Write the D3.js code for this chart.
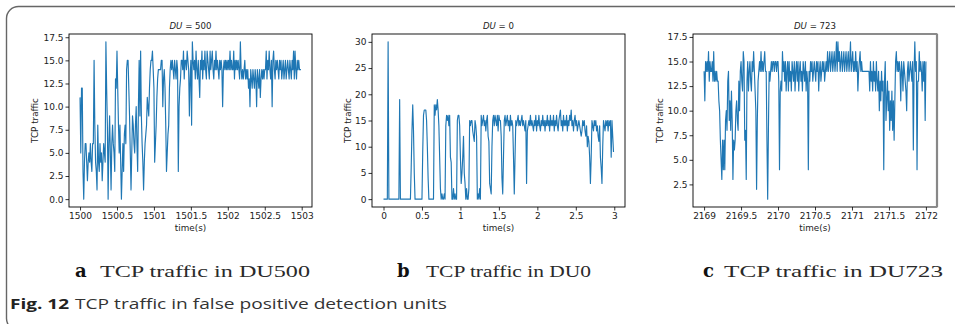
<!DOCTYPE html>
<html>
<head>
<meta charset="utf-8">
<script src="https://cdn.jsdelivr.net/npm/d3@7"></script>
<style>
  body { margin: 0; background: #fff; }
  svg { display: block; }
</style>
</head>
<body>
<script>
// sampled every 10 ms
const stepSec = 0.01;

const start500 = 1500;
const traffic500 = [
  11, 5, 12, 12, 3, 0, 4, 6, 6, 4,
  2, 4, 5, 4, 6, 4, 3, 6, 6, 15,
  8, 4, 3, 1, 8, 4, 3, 6, 4, 5,
  2, 4, 6, 5, 4, 17, 12, 8, 0, 6,
  9, 5, 1, 6, 8, 6, 5, 3, 13, 12,
  16, 12, 8, 5, 8, 4, 0, 3, 6, 3,
  7, 8, 6, 14, 15, 15, 12, 9, 5, 1,
  5, 9, 8, 6, 5, 8, 10, 6, 3, 10,
  15, 9, 16, 9, 6, 4, 1, 4, 6, 7,
  8, 11, 10, 9, 12, 14, 15, 15, 16, 14,
  12, 4, 6, 8, 11, 13, 14, 14, 14, 14,
  15, 15, 10, 13, 14, 12, 8, 3, 5, 7,
  8, 12, 14, 15, 14, 15, 14, 13, 15, 14,
  13, 15, 14, 3, 10, 12, 13, 15, 15, 14,
  16, 13, 15, 15, 14, 16, 15, 14, 9, 13,
  15, 8, 17, 15, 14, 15, 13, 16, 14, 13,
  15, 13, 11, 15, 14, 16, 13, 15, 14, 16,
  14, 13, 16, 15, 14, 13, 16, 14, 15, 16,
  14, 13, 15, 14, 16, 14, 15, 14, 13, 15,
  14, 15, 14, 10, 14, 15, 14, 15, 14, 15,
  14, 15, 14, 16, 14, 15, 14, 14, 16, 13,
  15, 14, 15, 14, 15, 14, 13, 17, 14, 13,
  14, 13, 14, 15, 13, 14, 13, 14, 12, 13,
  10, 14, 13, 12, 14, 13, 12, 14, 13, 10,
  14, 13, 12, 14, 11, 13, 14, 13, 14, 13,
  14, 14, 16, 13, 15, 14, 16, 14, 13, 15,
  10, 15, 16, 14, 13, 15, 14, 15, 14, 13,
  15, 14, 15, 13, 14, 15, 13, 14, 15, 13,
  14, 15, 14, 13, 15, 14, 13, 15, 14, 16,
  13, 16, 14, 13, 15, 14, 15, 14, 14, 14
];

const start0 = 0;
const traffic0 = [
  0, 0, 0, 0, 0, 0, 30, 0, 0, 0,
  0, 0, 0, 0, 0, 0, 0, 0, 0, 0,
  0, 19, 0, 0, 0, 0, 0, 0, 0, 0,
  0, 0, 0, 0, 0, 0, 6, 13, 18, 13,
  5, 0, 0, 0, 0, 0, 0, 0, 0, 0,
  0, 9, 16, 17, 17, 17, 15, 10, 4, 0,
  0, 0, 0, 0, 0, 0, 18, 16, 18, 17,
  19, 17, 14, 8, 2, 0, 1, 0, 0, 1,
  0, 14, 16, 15, 16, 14, 16, 8, 7, 0,
  0, 2, 0, 1, 0, 0, 15, 16, 16, 14,
  8, 3, 5, 8, 12, 5, 3, 0, 2, 0,
  0, 2, 15, 14, 15, 15, 13, 12, 11, 15,
  14, 12, 0, 1, 0, 2, 0, 16, 14, 15,
  16, 14, 15, 13, 15, 16, 12, 11, 3, 2,
  1, 10, 15, 16, 14, 16, 15, 14, 16, 13,
  16, 15, 15, 12, 4, 1, 8, 15, 16, 14,
  15, 16, 14, 15, 13, 16, 14, 15, 14, 8,
  1, 8, 15, 14, 15, 16, 14, 15, 14, 15,
  16, 14, 15, 14, 13, 15, 3, 13, 14, 15,
  14, 16, 14, 15, 14, 13, 15, 14, 16, 13,
  15, 14, 16, 14, 13, 15, 14, 16, 14, 15,
  13, 15, 14, 16, 14, 15, 13, 16, 14, 15,
  14, 16, 13, 15, 14, 16, 14, 13, 15, 16,
  17, 14, 15, 13, 16, 14, 15, 14, 16, 13,
  15, 14, 16, 15, 17, 14, 15, 13, 15, 16,
  14, 15, 13, 14, 15, 14, 13, 12, 13, 15,
  14, 15, 13, 12, 14, 10, 12, 11, 8, 3,
  8, 15, 14, 13, 15, 14, 15, 13, 14, 12,
  11, 14, 8, 6, 3, 10, 15, 14, 13, 15,
  14, 15, 13, 15, 14, 15, 8, 15, 12, 9
];

const start723 = 2169;
const traffic723 = [
  14, 11, 15, 14, 15, 14, 16, 13, 15, 14,
  14, 15, 13, 16, 13, 14, 13, 14, 13, 13,
  11, 10, 7, 5, 3, 7, 4, 7, 4, 9,
  10, 8, 13, 14, 9, 11, 8, 12, 9, 3,
  7, 6, 7, 10, 11, 9, 8, 13, 10, 14,
  15, 13, 12, 16, 15, 7, 8, 3, 13, 15,
  12, 14, 15, 13, 12, 15, 14, 16, 14, 12,
  10, 2, 9, 13, 14, 15, 14, 16, 14, 15,
  14, 15, 16, 14, 14, 7, 1, 8, 14, 13,
  14, 15, 14, 15, 15, 14, 15, 15, 14, 15,
  15, 13, 4, 12, 13, 12, 16, 14, 15, 13,
  15, 12, 14, 15, 12, 15, 13, 14, 12, 15,
  14, 13, 15, 12, 14, 15, 13, 15, 12, 14,
  15, 13, 14, 12, 15, 14, 13, 15, 12, 14,
  13, 4, 14, 13, 15, 14, 15, 13, 14, 15,
  14, 13, 15, 14, 15, 12, 14, 15, 13, 14,
  15, 14, 15, 13, 14, 15, 14, 16, 14, 15,
  16, 14, 15, 16, 14, 15, 16, 14, 15, 17,
  14, 17, 15, 16, 14, 15, 16, 14, 15, 16,
  14, 15, 16, 14, 15, 16, 14, 15, 17, 14,
  15, 16, 14, 15, 14, 16, 14, 15, 12, 14,
  15, 16, 14, 15, 14, 14, 14, 14, 14, 14,
  14, 14, 14, 14, 12, 15, 13, 14, 12, 15,
  13, 14, 12, 15, 13, 12, 14, 10, 13, 11,
  14, 12, 13, 4, 13, 15, 9, 11, 13, 10,
  12, 8, 11, 9, 12, 8, 11, 7, 11, 15,
  16, 14, 15, 14, 15, 14, 11, 15, 14, 12,
  15, 14, 13, 12, 10, 14, 15, 13, 14, 15,
  14, 13, 15, 6, 14, 17, 14, 15, 4, 13,
  13, 16, 14, 15, 14, 12, 15, 13, 15, 9,
  15
];

const xTicks500 = [1500, 1500.5, 1501, 1501.5, 1502, 1502.5, 1503];
const yTicks500 = [0, 2.5, 5, 7.5, 10, 12.5, 15, 17.5];
const xTicks0 = [0, 0.5, 1, 1.5, 2, 2.5, 3];
const yTicks0 = [0, 5, 10, 15, 20, 25, 30];
const xTicks723 = [2169, 2169.5, 2170, 2170.5, 2171, 2171.5, 2172];
const yTicks723 = [2.5, 5, 7.5, 10, 12.5, 15, 17.5];

const duLabels = ["500", "0", "723"];
const subLetters = ["a", "b", "c"];
const subCaptions = ["TCP traffic in DU500", "TCP traffic in DU0", "TCP traffic in DU723"];
const figLabel = "Fig. 12";
const figCaption = "TCP traffic in false positive detection units";

const W = 955, H = 324;
const plotTop = 34, plotBottom = 207;
const lineColor = "#1f77b4";

const svg = d3.select("body").append("svg")
    .attr("width", W)
    .attr("height", H)
    .style("font-family", "'DejaVu Sans', sans-serif");

// outer frame of the figure box
svg.append("rect")
    .attr("x", 6.5).attr("y", 6.5)
    .attr("width", 1000).attr("height", 324)
    .attr("rx", 12)
    .attr("fill", "none")
    .attr("stroke", "#666")
    .attr("stroke-width", 1.4);

// padding of matplotlib's auto limits (5%)
function padded(lo, hi) {
    const m = (hi - lo) * 0.05;
    return [lo - m, hi + m];
}

const panels = [
    { du: duLabels[0], values: traffic500, t0: start500, xTicks: xTicks500, yTicks: yTicks500,
      yFmt: d3.format(".1f"), left: 69, right: 312, ylabX: 35 },
    { du: duLabels[1], values: traffic0, t0: start0, xTicks: xTicks0, yTicks: yTicks0,
      yFmt: d3.format("d"), left: 372, right: 625, ylabX: 348 },
    { du: duLabels[2], values: traffic723, t0: start723, xTicks: xTicks723, yTicks: yTicks723,
      yFmt: d3.format(".1f"), left: 693, right: 937, ylabX: 660 }
];

panels.forEach((p, k) => {
    const pts = p.values.map((v, i) => ({ t: p.t0 + i * stepSec, v: v }));
    const x = d3.scaleLinear()
        .domain(padded(d3.min(pts, d => d.t), d3.max(pts, d => d.t)))
        .range([p.left, p.right]);
    const y = d3.scaleLinear()
        .domain(padded(d3.min(p.values), d3.max(p.values)))
        .range([plotBottom, plotTop]);

    const g = svg.append("g");

    // the trace
    g.append("path")
        .datum(pts)
        .attr("fill", "none")
        .attr("stroke", lineColor)
        .attr("stroke-width", 1.15)
        .attr("stroke-linejoin", "round")
        .attr("d", d3.line().x(d => x(d.t)).y(d => y(d.v)));

    // axes
    const xAxis = d3.axisBottom(x)
        .tickValues(p.xTicks)
        .tickFormat(d => String(d))
        .tickSize(3.5)
        .tickSizeOuter(0)
        .tickPadding(2);
    const yAxis = d3.axisLeft(y)
        .tickValues(p.yTicks)
        .tickFormat(p.yFmt)
        .tickSize(3.5)
        .tickSizeOuter(0)
        .tickPadding(2);

    const gx = g.append("g")
        .attr("transform", `translate(0,${plotBottom})`)
        .call(xAxis);
    const gy = g.append("g")
        .attr("transform", `translate(${p.left},0)`)
        .call(yAxis);
    [gx, gy].forEach(a => {
        a.select(".domain").remove();
        a.selectAll("line").attr("stroke", "#000").attr("stroke-width", 0.8);
        a.selectAll("text")
            .attr("fill", "#222")
            .style("font-size", "9px")
            .style("font-family", "'DejaVu Sans', sans-serif");
    });

    // spines
    g.append("rect")
        .attr("x", p.left).attr("y", plotTop)
        .attr("width", p.right - p.left).attr("height", plotBottom - plotTop)
        .attr("fill", "none")
        .attr("stroke", "#000")
        .attr("stroke-width", 0.9);
    if (k === 2) {
        g.append("line")
            .attr("x1", p.right).attr("x2", p.right)
            .attr("y1", plotTop).attr("y2", plotBottom)
            .attr("stroke", "#888")
            .attr("stroke-width", 2.2);
    }

    // title  DU = n
    const title = g.append("text")
        .attr("x", (p.left + p.right) / 2)
        .attr("y", 29)
        .attr("text-anchor", "middle")
        .style("font-size", "8.6px")
        .attr("fill", "#222");
    title.append("tspan").style("font-style", "italic").text("DU");
    title.append("tspan").text(" = " + p.du);

    // axis labels
    g.append("text")
        .attr("x", (p.left + p.right) / 2)
        .attr("y", 230.5)
        .attr("text-anchor", "middle")
        .style("font-size", "8.8px")
        .attr("fill", "#222")
        .text("time(s)");
    g.append("text")
        .attr("transform", `translate(${p.ylabX},${(plotTop + plotBottom) / 2}) rotate(-90)`)
        .attr("text-anchor", "middle")
        .attr("dy", "0.35em")
        .style("font-size", "8.8px")
        .attr("fill", "#222")
        .text("TCP traffic");
});

// sub-captions in serif type
const capLetterX = [75, 397, 703];
const capTextX = [100, 426, 724];
const capTextW = [210, 165, 219];
subCaptions.forEach((c, k) => {
    svg.append("text")
        .attr("x", capLetterX[k]).attr("y", 277)
        .style("font-family", "'DejaVu Serif', serif")
        .style("font-weight", "bold")
        .style("font-size", "18px")
        .attr("fill", "#111")
        .text(subLetters[k]);
    svg.append("text")
        .attr("x", capTextX[k]).attr("y", 277)
        .style("font-family", "'Liberation Serif', serif")
        .style("font-size", "16px")
        .attr("fill", "#2a2a2a")
        .attr("textLength", capTextW[k])
        .attr("lengthAdjust", "spacingAndGlyphs")
        .text(c);
});

// figure caption
svg.append("text")
    .attr("x", 10).attr("y", 309)
    .style("font-family", "'Open Sans', sans-serif")
    .style("font-weight", "bold")
    .style("font-size", "15px")
    .attr("fill", "#222")
    .attr("textLength", 59)
    .attr("lengthAdjust", "spacingAndGlyphs")
    .text(figLabel);
svg.append("text")
    .attr("x", 75).attr("y", 309)
    .style("font-family", "'Open Sans', sans-serif")
    .style("font-size", "15px")
    .attr("fill", "#333")
    .attr("textLength", 372)
    .attr("lengthAdjust", "spacingAndGlyphs")
    .text(figCaption);
</script>
</body>
</html>
